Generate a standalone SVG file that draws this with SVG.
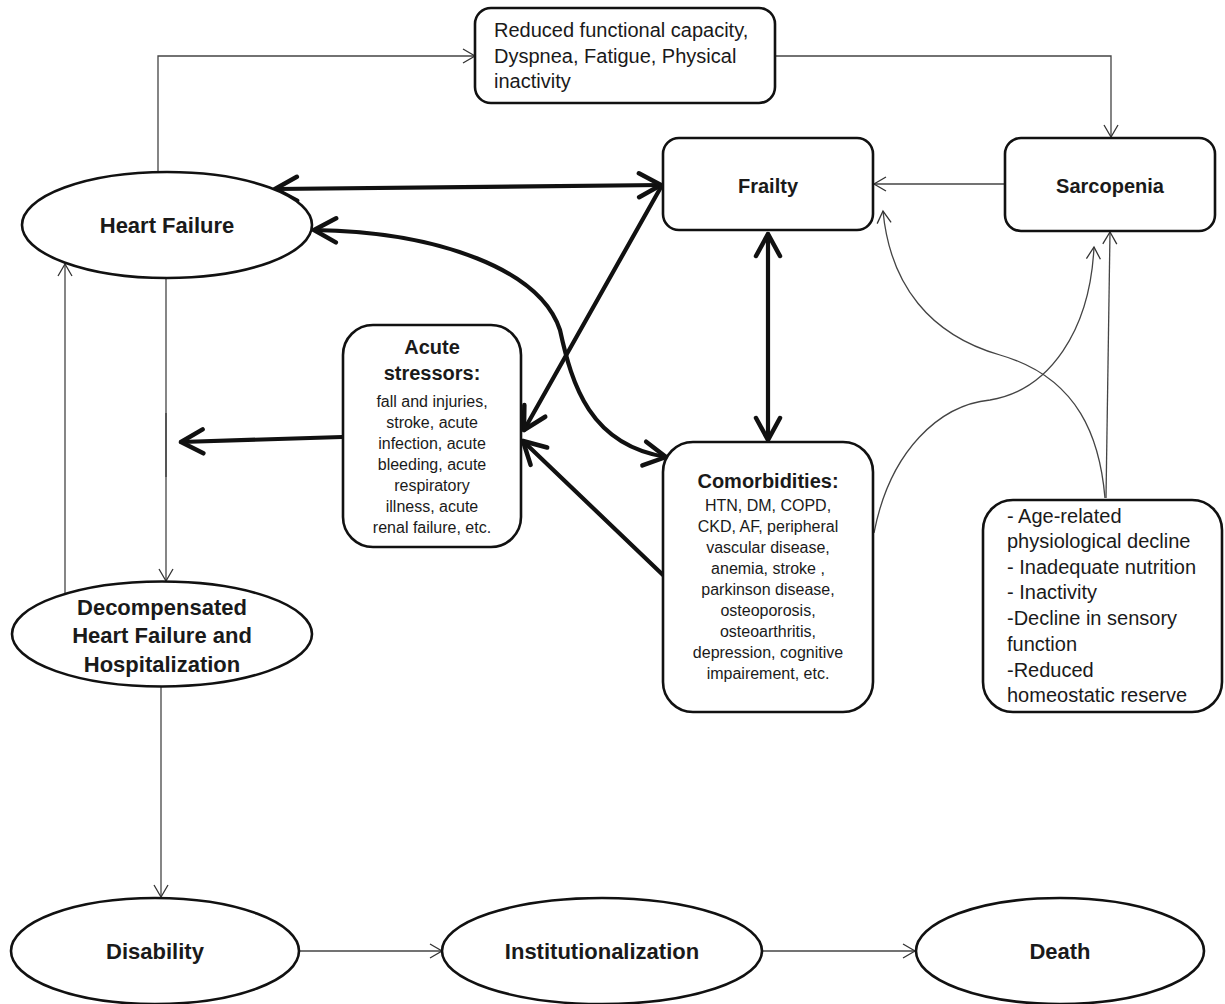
<svg xmlns="http://www.w3.org/2000/svg" width="1225" height="1004" viewBox="0 0 1225 1004">
<defs>
<style>
text{font-family:"Liberation Sans",Arial,sans-serif;fill:#1a1a1a}
.b{font-weight:bold}
.t20{font-size:20px}
.t22{font-size:22px}
.t16{font-size:16px}
.mid{text-anchor:middle}
.node{fill:#fff;stroke:#111;stroke-width:2.6}
.thin{fill:none;stroke:#444;stroke-width:1.3}
.thick{fill:none;stroke:#111;stroke-width:4.2;stroke-linecap:round}
</style>
<marker id="ta" markerUnits="userSpaceOnUse" markerWidth="16" markerHeight="18" refX="13" refY="8" orient="auto-start-reverse">
<path d="M1,1 L13,8 L1,15" fill="none" stroke="#333" stroke-width="1.3"/>
</marker>
<marker id="TA" markerUnits="userSpaceOnUse" markerWidth="30" markerHeight="30" refX="25" refY="15" orient="auto-start-reverse">
<path d="M3,3 L25,15 L3,27" fill="none" stroke="#111" stroke-width="4.5" stroke-linecap="round" stroke-linejoin="round"/>
</marker>
</defs>
<rect width="1225" height="1004" fill="#fff"/>

<g id="connectors">
<path class="thin" d="M158,173 V56 H475" marker-end="url(#ta)"/>
<path class="thin" d="M775,56 H1111 V137" marker-end="url(#ta)"/>
<path class="thin" d="M1005,184 H874" marker-end="url(#ta)"/>
<path class="thin" d="M166,278 V581" marker-end="url(#ta)"/>
<path d="M166,413 V477" stroke="#555" stroke-width="2" fill="none"/>
<path class="thin" d="M65,595 V264" marker-end="url(#ta)"/>
<path class="thin" d="M161,687 V897" marker-end="url(#ta)"/>
<path class="thin" d="M299,951 H442" marker-end="url(#ta)"/>
<path class="thin" d="M762,951 H915" marker-end="url(#ta)"/>
<path class="thin" d="M1106,498 L1110,232" marker-end="url(#ta)"/>
<path class="thin" d="M1105,498 C1100,440 1080,378 1000,355 C930,335 890,285 883,211" marker-end="url(#ta)"/>
<path class="thin" d="M874,533 C890,450 940,405 990,400 C1050,390 1090,330 1094,247" marker-end="url(#ta)"/>
<path class="thick" d="M275,189 L661,185" marker-start="url(#TA)" marker-end="url(#TA)"/>
<path class="thick" d="M314,230 C440,232 540,270 560,330 C572,385 590,445 666,457" marker-start="url(#TA)" marker-end="url(#TA)"/>
<path class="thick" d="M768,234 V440" marker-start="url(#TA)" marker-end="url(#TA)"/>
<path class="thick" d="M661,187 L524,430" marker-end="url(#TA)"/>
<path class="thick" d="M663,575 L523,441" marker-end="url(#TA)"/>
<path class="thick" d="M342,437 L181,442" marker-end="url(#TA)"/>
</g>

<g id="reduced-capacity">
<rect class="node" x="475" y="8" width="300" height="95" rx="16"/>
<text class="t20" x="494" y="37">Reduced functional capacity,</text>
<text class="t20" x="494" y="63">Dyspnea, Fatigue, Physical</text>
<text class="t20" x="494" y="88">inactivity</text>
</g>

<g id="heart-failure">
<ellipse class="node" cx="167" cy="225" rx="145" ry="53"/>
<text class="b t22 mid" x="167" y="233">Heart Failure</text>
</g>

<g id="frailty">
<rect class="node" x="663" y="138" width="210" height="92" rx="16"/>
<text class="b t20 mid" x="768" y="193">Frailty</text>
</g>

<g id="sarcopenia">
<rect class="node" x="1005" y="138" width="210" height="93" rx="16"/>
<text class="b t20 mid" x="1110" y="193">Sarcopenia</text>
</g>

<g id="acute-stressors">
<rect class="node" x="343" y="325" width="178" height="222" rx="30"/>
<text class="b t20 mid" x="432" y="354">Acute</text>
<text class="b t20 mid" x="432" y="380">stressors:</text>
<text class="t16 mid" x="432" y="407">fall and injuries,</text>
<text class="t16 mid" x="432" y="428">stroke, acute</text>
<text class="t16 mid" x="432" y="449">infection, acute</text>
<text class="t16 mid" x="432" y="470">bleeding, acute</text>
<text class="t16 mid" x="432" y="491">respiratory</text>
<text class="t16 mid" x="432" y="512">illness, acute</text>
<text class="t16 mid" x="432" y="533">renal failure, etc.</text>
</g>

<g id="comorbidities">
<rect class="node" x="663" y="442" width="210" height="270" rx="30"/>
<text class="b t20 mid" x="768" y="488">Comorbidities:</text>
<text class="t16 mid" x="768" y="511">HTN, DM, COPD,</text>
<text class="t16 mid" x="768" y="532">CKD, AF, peripheral</text>
<text class="t16 mid" x="768" y="553">vascular disease,</text>
<text class="t16 mid" x="768" y="574">anemia, stroke ,</text>
<text class="t16 mid" x="768" y="595">parkinson disease,</text>
<text class="t16 mid" x="768" y="616">osteoporosis,</text>
<text class="t16 mid" x="768" y="637">osteoarthritis,</text>
<text class="t16 mid" x="768" y="658">depression, cognitive</text>
<text class="t16 mid" x="768" y="679">impairement, etc.</text>
</g>

<g id="aging-factors">
<rect class="node" x="983" y="500" width="239" height="212" rx="30"/>
<text class="t20" x="1007" y="523">- Age-related</text>
<text class="t20" x="1007" y="548">physiological decline</text>
<text class="t20" x="1007" y="574">- Inadequate nutrition</text>
<text class="t20" x="1007" y="599">- Inactivity</text>
<text class="t20" x="1007" y="625">-Decline in sensory</text>
<text class="t20" x="1007" y="651">function</text>
<text class="t20" x="1007" y="677">-Reduced</text>
<text class="t20" x="1007" y="702">homeostatic reserve</text>
</g>

<g id="decompensated">
<ellipse class="node" cx="162" cy="634" rx="150" ry="52.5"/>
<text class="b t22 mid" x="162" y="615">Decompensated</text>
<text class="b t22 mid" x="162" y="643">Heart Failure and</text>
<text class="b t22 mid" x="162" y="672">Hospitalization</text>
</g>

<g id="disability">
<ellipse class="node" cx="155" cy="951" rx="144" ry="53"/>
<text class="b t22 mid" x="155" y="959">Disability</text>
</g>

<g id="institutionalization">
<ellipse class="node" cx="602" cy="951" rx="160" ry="53"/>
<text class="b t22 mid" x="602" y="959">Institutionalization</text>
</g>

<g id="death">
<ellipse class="node" cx="1060" cy="951" rx="144" ry="53"/>
<text class="b t22 mid" x="1060" y="959">Death</text>
</g>
</svg>
